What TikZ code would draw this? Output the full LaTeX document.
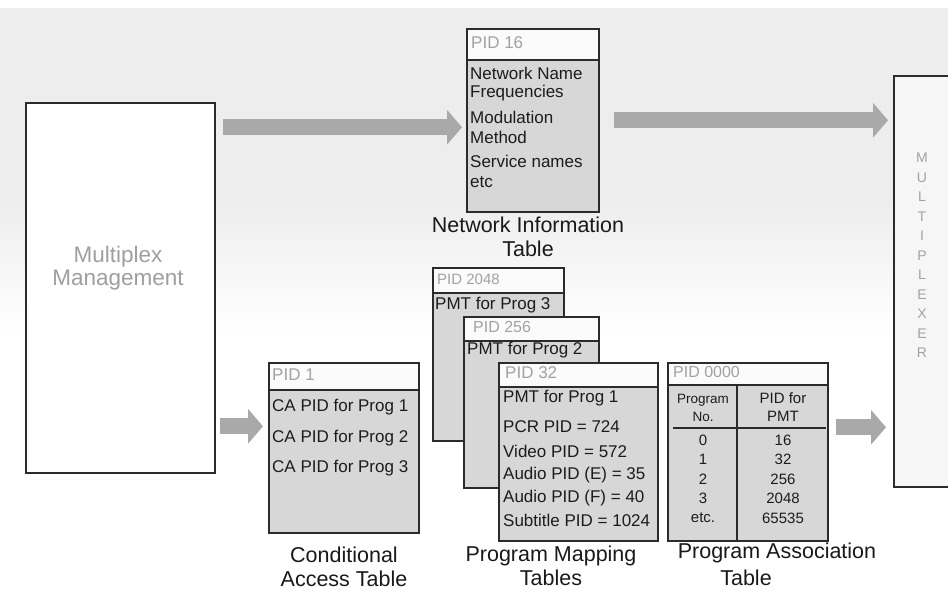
\documentclass[tikz,border=0pt]{standalone}
\usepackage{fontspec}
\setmainfont{Liberation Sans}
\usetikzlibrary{arrows.meta,calc}

\definecolor{edge}{HTML}{2B2B2B}
\definecolor{bodyfill}{HTML}{D7D7D7}
\definecolor{headtext}{HTML}{A2A2A2}
\definecolor{bodytext}{HTML}{1C1C1C}
\definecolor{flow}{HTML}{A9A9A9}

\tikzset{
  panel/.style={draw=edge, line width=1.6pt, fill=bodyfill, anchor=north west, inner sep=0pt},
  headbar/.style={draw=edge, line width=1.6pt, fill=white!97!gray, anchor=north west, inner sep=0pt},
  headlbl/.style={anchor=west, text=headtext, inner sep=0pt, font=\fontsize{16}{18}\selectfont},
  rowlbl/.style={anchor=west, text=bodytext, inner sep=0pt, font=\fontsize{17}{19}\selectfont},
  cell/.style={text=bodytext, inner sep=0pt, font=\fontsize{15}{17}\selectfont},
  caption/.style={text=black!90, inner sep=0pt, font=\fontsize{21.5}{24}\selectfont},
  blockarrow/.style={draw=flow, line width=16pt, line cap=butt,
    -{Triangle[length=15pt,width=34pt]}},
  muxletter/.style={text=headtext, inner sep=0pt, font=\fontsize{14}{14}\selectfont},
}

\begin{document}
\begin{tikzpicture}[x=1pt,y=-1pt]
\useasboundingbox (0,0) rectangle (948,590);
\clip (0,0) rectangle (948,590);

% background: grey band at the top fading to white
\fill[white] (0,0) rectangle (948,590);
\fill[gray!14] (0,8) rectangle (948,200);
\shade[top color=gray!14, bottom color=white] (0,199.5) rectangle (948,335);

% ---------- Multiplex management ----------
\node[draw=edge, line width=1.6pt, fill=white, anchor=north west,
      minimum width=189pt, minimum height=370pt] (mm) at (25,102) {};
\node[text=gray!75, align=center, inner sep=0pt,
      font=\fontsize{22.5}{23}\selectfont] (mmtext) at (118,268) {Multiplex\\Management};

% ---------- Multiplexer ----------
\node[draw=edge, line width=1.6pt, fill=gray!7, anchor=north west,
      minimum width=90pt, minimum height=411pt] (mux) at (893,75) {};
\foreach \ch [count=\i from 0] in {M,U,L,T,I,P,L,E,X,E,R}
  \node[muxletter] (mux\i) at (922,158+19.5*\i) {\ch};

% ---------- Network information table ----------
\node[panel, minimum width=132pt, minimum height=183pt] (nit) at (466,28) {};
\node[headbar, minimum width=132pt, minimum height=31pt] (nith) at (466,28) {};
\node[headlbl, font=\fontsize{17}{19}\selectfont] (nitpid) at (471,43) {PID 16};
\node[rowlbl] (nit1) at (470,73) {Network Name};
\node[rowlbl] (nit2) at (470,93) {Frequencies};
\node[rowlbl] (nit3) at (470,117) {Modulation};
\node[rowlbl] (nit4) at (470,137) {Method};
\node[rowlbl] (nit5) at (470,161) {Service names};
\node[rowlbl] (nit6) at (470,182) {etc};
\node[caption, align=center] (nitcap) at (528,237) {Network Information\\Table};

% ---------- Conditional access table ----------
\node[panel, minimum width=150pt, minimum height=170pt] (cat) at (268,362) {};
\node[headbar, minimum width=150pt, minimum height=27pt] (cath) at (268,362) {};
\node[headlbl, font=\fontsize{17}{19}\selectfont] (catpid) at (272,375) {PID 1};
\node[rowlbl] (cat1) at (272,407) {CA PID for Prog 1};
\node[rowlbl] (cat2) at (272,438) {CA PID for Prog 2};
\node[rowlbl] (cat3) at (272,468) {CA PID for Prog 3};
\node[caption, align=center] (catcap) at (344,567) {Conditional\\Access Table};

% ---------- Program map tables (stacked) ----------
\node[panel, minimum width=131pt, minimum height=173pt] (pmtc) at (432,267) {};
\node[headbar, minimum width=131pt, minimum height=25pt] (pmtch) at (432,267) {};
\node[headlbl, font=\fontsize{15}{17}\selectfont] (pmtcpid) at (437,279) {PID 2048};
\node[rowlbl] (pmtc1) at (435,305) {PMT for Prog 3};

\node[panel, minimum width=135pt, minimum height=171pt] (pmtb) at (463,316) {};
\node[headbar, minimum width=135pt, minimum height=24pt] (pmtbh) at (463,316) {};
\node[headlbl] (pmtbpid) at (473,327) {PID 256};
\node[rowlbl] (pmtb1) at (467,350) {PMT for Prog 2};

\node[panel, minimum width=159pt, minimum height=178pt] (pmta) at (498,362) {};
\node[headbar, minimum width=159pt, minimum height=24pt] (pmtah) at (498,362) {};
\node[headlbl, font=\fontsize{17}{19}\selectfont] (pmtapid) at (505,373) {PID 32};
\node[rowlbl] (pmta1) at (503,398) {PMT for Prog 1};
\node[rowlbl] (pmta2) at (503,427) {PCR PID = 724};
\node[rowlbl] (pmta3) at (503,451) {Video PID = 572};
\node[rowlbl] (pmta4) at (503,475) {Audio PID (E) = 35};
\node[rowlbl] (pmta5) at (503,498) {Audio PID (F) = 40};
\node[rowlbl] (pmta6) at (503,520) {Subtitle PID = 1024};
\node[caption, align=center] (pmtcap) at (551,566) {Program Mapping\\Tables};

% ---------- Program association table ----------
\node[panel, minimum width=160pt, minimum height=178pt] (pat) at (667,362) {};
\node[headbar, minimum width=160pt, minimum height=22pt] (path) at (667,362) {};
\node[headlbl] (patpid) at (673,372) {PID 0000};
\draw[edge, line width=1.4pt] (737,384) -- (737,540);
\draw[edge, line width=1.4pt] (673,428) -- (826,428);
\node[cell, font=\fontsize{13.5}{14}\selectfont] (patc1a) at (703,400) {Program};
\node[cell, font=\fontsize{13.5}{14}\selectfont] (patc1b) at (703,417) {No.};
\node[cell] (patc2a) at (783,398) {PID for};
\node[cell] (patc2b) at (783,416) {PMT};
\foreach \a/\b [count=\i from 0] in {0/16,1/32,2/256,3/2048,etc./65535} {
  \node[cell] (patl\i) at (703,440+19.5*\i) {\a};
  \node[cell] (patr\i) at (783,440+19.5*\i) {\b};
}
\node[caption] (patcap1) at (777,553) {Program Association};
\node[caption] (patcap2) at (746,578) {Table};

% ---------- flows ----------
\draw[blockarrow] ($(mm.east |- nit.west)+(7,7)$) -- ($(nit.west)+(-4,7)$);
\draw[blockarrow] ($(nit.east)+(14,0)$) -- ($(nit.east -| mux.west)+(-5,0)$);
\draw[blockarrow] ($(mm.east |- cat.west)+(4,-21.5)$) -- ($(cat.west)+(-5,-21.5)$);
\draw[blockarrow] ($(pat.east)+(7,-24.5)$) -- ($(pat.east -| mux.west)+(-7,-24.5)$);
\end{tikzpicture}
\end{document}
